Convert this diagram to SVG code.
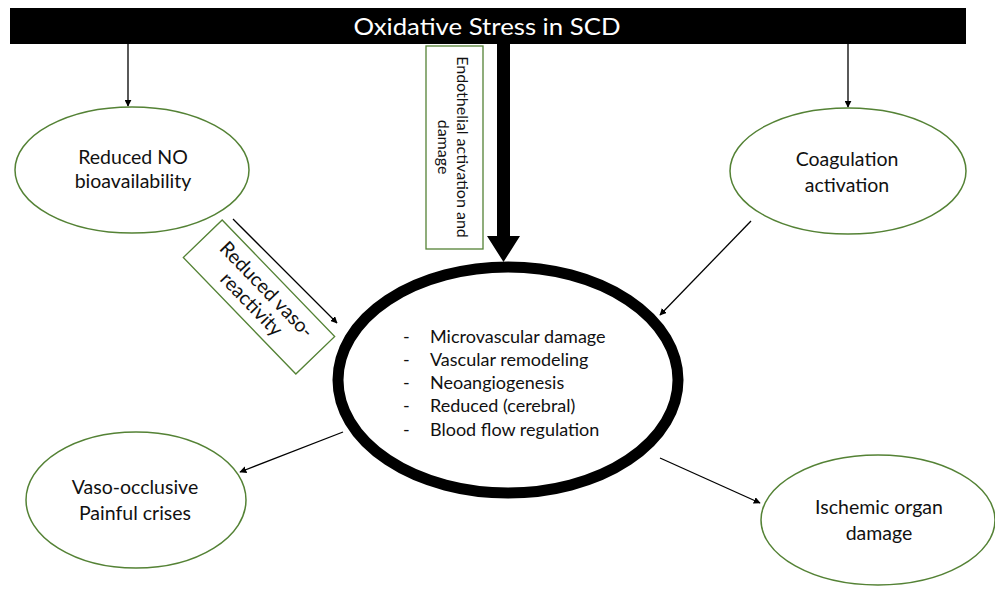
<svg xmlns="http://www.w3.org/2000/svg" width="995" height="590" viewBox="0 0 995 590">
<style>
  .node { fill: #ffffff; stroke: #548235; stroke-width: 1.5; }
  .lbl { font-family: Lato, "Open Sans", "Liberation Sans", sans-serif; font-size: 19.5px; fill: #111; text-anchor: middle; }
  .lst { font-family: Lato, "Open Sans", "Liberation Sans", sans-serif; font-size: 18px; fill: #111; }
  .conn { stroke: #000; stroke-width: 1.3; fill: none; marker-end: url(#ah); }
</style>
<defs>
  <marker id="ah" viewBox="0 0 10 10" refX="9" refY="5" markerWidth="7" markerHeight="7" markerUnits="userSpaceOnUse" orient="auto">
    <path d="M0,0 L10,5 L0,10 z" fill="#000"/>
  </marker>
</defs>
<rect width="995" height="590" fill="#fff"/>

<g id="title">
  <rect x="10" y="8" width="956" height="36" fill="#000"/>
  <text x="487" y="35" font-family="Lato, 'Open Sans', 'Liberation Sans', sans-serif" font-size="23" fill="#fff" text-anchor="middle" textLength="267" lengthAdjust="spacingAndGlyphs">Oxidative Stress in SCD</text>
</g>

<g id="connectors">
  <line class="conn" x1="128" y1="44" x2="128" y2="106"/>
  <line class="conn" x1="848" y1="44" x2="848" y2="107"/>
  <polygon points="497,44 510,44 510,236 520,236 503.5,262 487,236 497,236" fill="#000"/>
  <line class="conn" x1="233" y1="219" x2="337" y2="323"/>
  <line class="conn" x1="751" y1="221" x2="660" y2="315"/>
  <line class="conn" x1="343" y1="432" x2="240" y2="472"/>
  <line class="conn" x1="660" y1="458" x2="760" y2="503"/>
</g>

<g id="endothelial-label">
  <rect x="426" y="46" width="57" height="203" fill="#fff" stroke="#548235" stroke-width="1.3"/>
  <g transform="translate(454,147) rotate(90)" class="lst">
    <text x="0" y="-3" text-anchor="middle" font-size="16">Endothelial activation and</text>
    <text x="0" y="16" text-anchor="middle" font-size="16">damage</text>
  </g>
</g>

<g id="vasoreactivity-label">
  <g transform="translate(259,297) rotate(46)">
    <rect x="-81" y="-27" width="162" height="54" fill="#fff" stroke="#548235" stroke-width="1.3"/>
    <text class="lbl" x="0" y="-4" font-size="17">Reduced vaso-</text>
    <text class="lbl" x="0" y="17" font-size="17">reactivity</text>
  </g>
</g>

<g id="reduced-no">
  <ellipse class="node" cx="132" cy="170" rx="117" ry="63"/>
  <text class="lbl" x="133" y="164" font-size="18.5">Reduced NO</text>
  <text class="lbl" x="133" y="188" font-size="18.5">bioavailability</text>
</g>

<g id="coagulation">
  <ellipse class="node" cx="848" cy="171" rx="118" ry="63"/>
  <text class="lbl" x="847" y="166">Coagulation</text>
  <text class="lbl" x="847" y="192">activation</text>
</g>

<g id="center">
  <ellipse cx="508" cy="380" rx="170" ry="113" fill="#fff" stroke="#000" stroke-width="11"/>
  <g class="lst">
    <text x="403" y="343">-</text><text x="430" y="343">Microvascular damage</text>
    <text x="403" y="366">-</text><text x="430" y="366">Vascular remodeling</text>
    <text x="403" y="389">-</text><text x="430" y="389">Neoangiogenesis</text>
    <text x="403" y="412">-</text><text x="430" y="412">Reduced (cerebral)</text>
    <text x="403" y="436">-</text><text x="430" y="436">Blood flow regulation</text>
  </g>
</g>

<g id="vaso-occlusive">
  <ellipse class="node" cx="136" cy="500" rx="110" ry="68"/>
  <text class="lbl" x="135" y="494">Vaso-occlusive</text>
  <text class="lbl" x="135" y="520">Painful crises</text>
</g>

<g id="ischemic">
  <ellipse class="node" cx="878" cy="520" rx="117" ry="65"/>
  <text class="lbl" x="879" y="514">Ischemic organ</text>
  <text class="lbl" x="879" y="540">damage</text>
</g>
</svg>
